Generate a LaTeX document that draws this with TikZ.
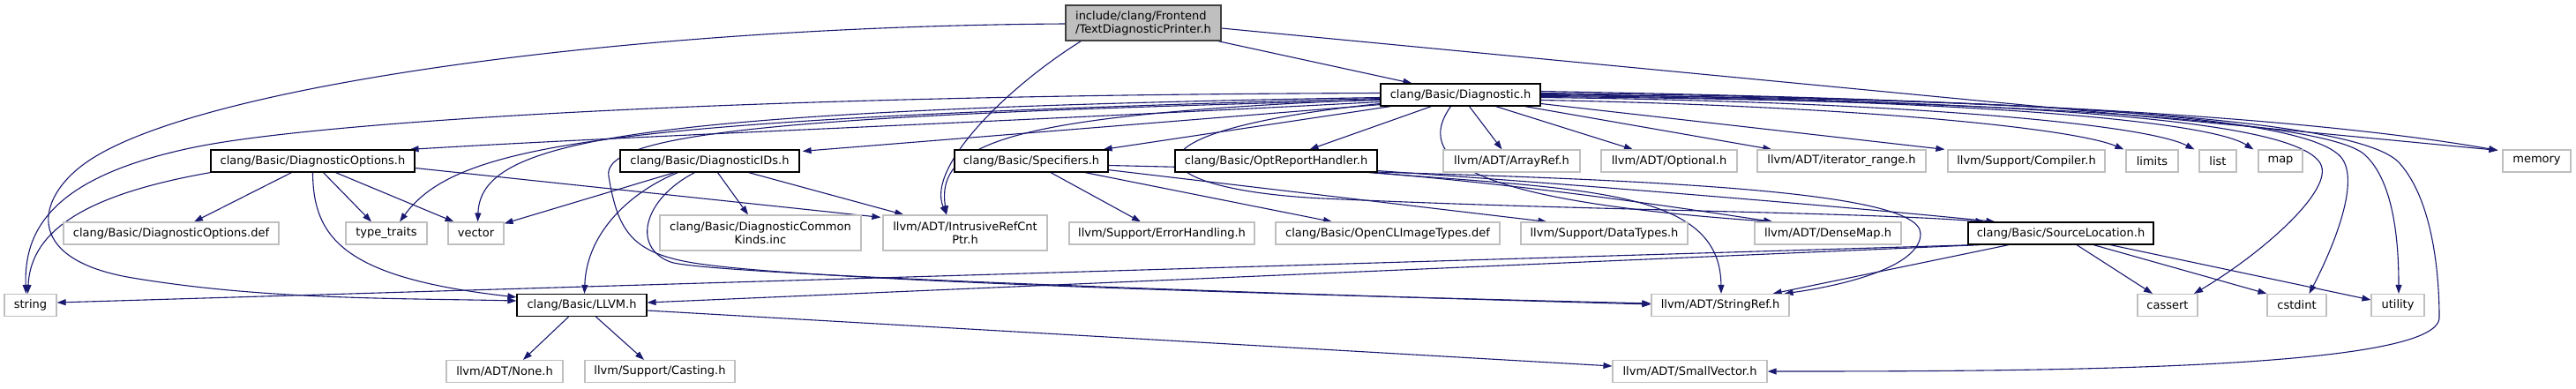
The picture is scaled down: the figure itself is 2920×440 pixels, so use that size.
\documentclass[tikz,border=0pt]{standalone}
\usepackage{fontspec}
\setmainfont{DejaVu Sans}
\usetikzlibrary{arrows.meta,calc}
\definecolor{edgec}{HTML}{191970}
\definecolor{extb}{HTML}{BFBFBF}
\pgfdeclarelayer{bg}
\pgfsetlayers{bg,main}
\begin{document}
\begin{tikzpicture}[x=1pt,y=-1pt,
  box/.style={draw=extb, fill=white, line width=1.2pt, minimum height=25pt, inner sep=0pt,
    font=\fontsize{13}{15}\selectfont, align=center},
  doc/.style={box, draw=black},
  rootbox/.style={box, draw=black!75, fill=extb, minimum height=40pt, align=left},
  edge/.style={draw=edgec, line width=1.1pt, -{Triangle[length=10pt,width=7pt]}},
]
\begin{pgfonlayer}{bg}
\useasboundingbox[fill=white] (0,0) rectangle (2920,440);
\end{pgfonlayer}
% level 0/1
\node[rootbox, minimum width=176pt] (root) at (1296,26) {include/clang/Frontend\\/TextDiagnosticPrinter.h};
\node[doc, minimum width=181pt] (diag) at (1655.5,107.5) {clang/Basic/Diagnostic.h};
% level 2
\node[doc, minimum width=231pt] (dopt) at (354.5,182.5) {clang/Basic/DiagnosticOptions.h};
\node[doc, minimum width=203pt] (dids) at (804.5,182.5) {clang/Basic/DiagnosticIDs.h};
\node[doc, minimum width=174pt] (spec) at (1169,182.5) {clang/Basic/Specifiers.h};
\node[doc, minimum width=229pt] (optrh) at (1446.5,182.5) {clang/Basic/OptReportHandler.h};
\node[box, minimum width=155pt] (arrayref) at (1713.5,182.5) {llvm/ADT/ArrayRef.h};
\node[box, minimum width=154pt] (optional) at (1892,182.5) {llvm/ADT/Optional.h};
\node[box, minimum width=191pt] (iterrange) at (2087.5,182.5) {llvm/ADT/iterator\_range.h};
\node[box, minimum width=178pt] (compiler) at (2297,182.5) {llvm/Support/Compiler.h};
\node[box, minimum width=59pt] (limits) at (2439.5,182.5) {limits};
\node[box, minimum width=42pt] (list) at (2514,182.5) {list};
\node[box, minimum width=50pt] (map) at (2585,182.5) {map};
\node[box, minimum width=77pt] (memory) at (2875.5,182.5) {memory};
% level 3
\node[box, minimum width=244pt] (doptdef) at (194,264.5) {clang/Basic/DiagnosticOptions.def};
\node[box, minimum width=92pt] (typetraits) at (438,264.5) {type\_traits};
\node[box, minimum width=63pt] (vector) at (539.5,264.5) {vector};
\node[box, minimum width=228pt, minimum height=40pt] (commonkinds) at (862,264) {clang/Basic/DiagnosticCommon\\Kinds.inc};
\node[box, minimum width=186pt, minimum height=40pt] (intrusive) at (1094,264) {llvm/ADT/IntrusiveRefCnt\\Ptr.h};
\node[box, minimum width=210pt] (errh) at (1317,264.5) {llvm/Support/ErrorHandling.h};
\node[box, minimum width=254pt] (opencl) at (1573,264.5) {clang/Basic/OpenCLImageTypes.def};
\node[box, minimum width=189pt] (datatypes) at (1818.5,264.5) {llvm/Support/DataTypes.h};
\node[box, minimum width=166pt] (densemap) at (2072,264.5) {llvm/ADT/DenseMap.h};
\node[doc, minimum width=210pt] (srcloc) at (2336,264.5) {clang/Basic/SourceLocation.h};
% level 4
\node[box, minimum width=59pt] (string) at (34.5,346) {string};
\node[doc, minimum width=147pt] (llvm) at (659.5,346) {clang/Basic/LLVM.h};
\node[box, minimum width=156pt] (stringref) at (1950,346) {llvm/ADT/StringRef.h};
\node[box, minimum width=68pt] (cassert) at (2457,346) {cassert};
\node[box, minimum width=67pt] (cstdint) at (2603.5,346) {cstdint};
\node[box, minimum width=60pt] (utility) at (2718,346) {utility};
% level 5
\node[box, minimum width=132pt] (none) at (572,421) {llvm/ADT/None.h};
\node[box, minimum width=170pt] (casting) at (748,421) {llvm/Support/Casting.h};
\node[box, minimum width=175pt] (smallvec) at (1915.5,421) {llvm/ADT/SmallVector.h};

\begin{pgfonlayer}{bg}
% root
\draw[edge] ($(root.south east)+(-4,0)$) -- ($(diag.north)+(-55,0)$);
\draw[edge] ($(root.south west)+(18,0)$) .. controls (1140,100) and (1050,190) .. ($(intrusive.north)+(-21,0)$);
\draw[edge] ($(root.west)+(0,1)$) .. controls (700,30) and (200,100) .. (90,190) .. controls (40,230) and (30,295) .. (150,315) .. controls (300,340) and (450,338) .. ($(llvm.west)+(0,-5)$);
\draw[edge] ($(root.east)+(0,6)$) -- ($(memory.north west)+(-5,1)$);
% diag, left side
\draw[edge] ($(diag.west)+(0,8)$) .. controls (1100,140) and (700,155) .. ($(dopt.north east)+(-6,0)$);
\draw[edge] ($(diag.south west)+(0,-2)$) -- ($(dids.north east)+(3,2)$);
\draw[edge] ($(diag.west)+(0,-2)$) .. controls (800,108) and (350,140) .. (220,167) .. controls (60,200) and (27,260) .. ($(string.north)+(-5,0)$);
\draw[edge] ($(diag.west)+(0,3)$) .. controls (700,125) and (545,160) .. ($(vector.north)+(2,0)$);
\draw[edge] ($(diag.west)+(0,4)$) .. controls (700,135) and (520,160) .. ($(typetraits.north)+(15,0)$);
\draw[edge] ($(diag.west)+(0,6)$) .. controls (900,130) and (680,150) .. (690,200) .. controls (700,260) and (715,285) .. (780,297) .. controls (900,319) and (1500,335) .. ($(stringref.west)+(0,-2)$);
\draw[edge] ($(diag.west)+(0,5)$) .. controls (1150,130) and (1060,160) .. ($(intrusive.north)+(-21,0)$);
\draw[edge] ($(diag.south west)+(12,0)$) -- ($(spec.north east)+(-6,0)$);
\draw[edge] ($(diag.south)+(-33,0)$) -- ($(optrh.north)+(38,0)$);
\draw[edge] ($(diag.south)+(10,0)$) -- ($(arrayref.north)+(-11,0)$);
\draw[edge] ($(diag.south)+(40,0)$) -- ($(optional.north)+(-41,0)$);
\draw[edge] ($(diag.south east)+(-18,0)$) -- ($(iterrange.north west)+(17,0)$);
\draw[edge] ($(diag.east)+(0,10)$) -- ($(compiler.north west)+(-3,0)$);
\draw[edge] ($(diag.east)+(0,6)$) .. controls (2100,120) and (2350,145) .. ($(limits.north west)+(-2,0)$);
\draw[edge] ($(diag.east)+(0,3)$) .. controls (2150,115) and (2430,140) .. ($(list.north west)+(-5,0)$);
\draw[edge] ($(diag.east)+(0,1)$) .. controls (2200,112) and (2500,135) .. ($(map.north west)+(-5,0)$);
\draw[edge] ($(diag.east)+(0,-2)$) .. controls (2200,110) and (2600,130) .. ($(memory.north west)+(-5,1)$);
\draw[edge] ($(diag.east)+(0,-1)$) .. controls (2300,115) and (2600,135) .. (2630,185) .. controls (2648,215) and (2560,290) .. ($(cassert.north)+(30,0)$);
\draw[edge] (diag.east) .. controls (2300,112) and (2620,130) .. (2655,180) .. controls (2676,210) and (2640,290) .. ($(cstdint.north)+(14,0)$);
\draw[edge] ($(diag.east)+(0,2)$) .. controls (2350,115) and (2640,140) .. (2680,175) .. controls (2715,206) and (2719,280) .. ($(utility.north)+(1,0)$);
\draw[edge] ($(diag.east)+(0,-4)$) .. controls (2400,115) and (2680,140) .. (2720,185) .. controls (2760,230) and (2765,320) .. (2765,360) .. controls (2765,420) and (2300,421) .. (smallvec.east);
\draw[edge] ($(diag.south)+(-11,0)$) .. controls (1595,190) and (1700,230) .. ($(densemap.north west)+(21,0)$);
\draw[edge] ($(diag.west)+(0,10)$) .. controls (1250,150) and (1290,215) .. (1500,225) .. controls (1800,239) and (2100,240) .. ($(srcloc.north west)+(19,0)$);
% optrh
\draw[edge] ($(optrh.south east)+(0,-2)$) .. controls (1800,210) and (2100,235) .. ($(srcloc.north west)+(31,0)$);
\draw[edge] ($(optrh.south east)+(-5,0)$) .. controls (1750,212) and (1900,235) .. ($(densemap.north west)+(21,0)$);
\draw[edge] ($(optrh.south east)+(-10,0)$) .. controls (1800,215) and (1950,215) .. ($(stringref.north)+(1,0)$);
% spec
\draw[edge] ($(spec.south)+(22,0)$) -- ($(errh.north)+(-24,0)$);
\draw[edge] ($(spec.south)+(61,0)$) -- ($(opencl.north)+(-63,0)$);
\draw[edge] ($(spec.south east)+(0,-3)$) -- ($(datatypes.north)+(-65,0)$);
\draw[edge] ($(spec.east)+(0,5)$) .. controls (1800,200) and (2177,210) .. (2177,265) .. controls (2177,300) and (2100,322) .. ($(stringref.north east)+(-6,0)$);
% dopt
\draw[edge] ($(dopt.south)+(-24,0)$) -- ($(doptdef.north)+(26,0)$);
\draw[edge] ($(dopt.south)+(12,0)$) -- ($(typetraits.north)+(-17,0)$);
\draw[edge] ($(dopt.south)+(26,0)$) -- ($(vector.north)+(-25,0)$);
\draw[edge] (dopt.south west) .. controls (100,220) and (35,260) .. ($(string.north)+(-3,0)$);
\draw[edge] (dopt.south) .. controls (355,270) and (390,315) .. ($(llvm.north west)+(0,4)$);
\draw[edge] ($(dopt.east)+(0,8)$) -- ($(intrusive.north west)+(-2,3)$);
% dids
\draw[edge] ($(dids.south)+(-40,0)$) -- ($(vector.north east)+(0,2)$);
\draw[edge] ($(dids.south)+(-36,0)$) .. controls (720,215) and (665,260) .. ($(llvm.north)+(3,0)$);
\draw[edge] ($(dids.south)+(9,0)$) -- ($(commonkinds.north)+(-14,0)$);
\draw[edge] ($(dids.south east)+(-58,0)$) -- ($(intrusive.north west)+(24,0)$);
\draw[edge] ($(dids.south)+(-17,0)$) .. controls (730,225) and (715,280) .. (760,297) .. controls (800,312) and (1500,335) .. ($(stringref.west)+(0,-1)$);
% srcloc
\draw[edge] ($(srcloc.south west)+(8,0)$) -- ($(string.east)+(0,-3)$);
\draw[edge] ($(srcloc.south west)+(14,0)$) -- ($(llvm.east)+(0,-3)$);
\draw[edge] ($(srcloc.south)+(-59,0)$) -- ($(stringref.north east)+(-19,0)$);
\draw[edge] ($(srcloc.south)+(18,0)$) -- ($(cassert.north)+(-17,0)$);
\draw[edge] ($(srcloc.south)+(37,0)$) -- (cstdint.north west);
\draw[edge] ($(srcloc.south)+(56,0)$) -- ($(utility.west)+(0,-6)$);
% llvm
\draw[edge] ($(llvm.south)+(-15,0)$) -- ($(none.north)+(21,0)$);
\draw[edge] ($(llvm.south)+(16,0)$) -- ($(casting.north)+(-18,0)$);
\draw[edge] ($(llvm.east)+(0,6)$) -- ($(smallvec.west)+(0,-6)$);
\end{pgfonlayer}
\end{tikzpicture}
\end{document}
